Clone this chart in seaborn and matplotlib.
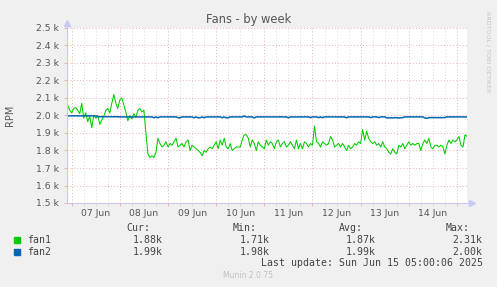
import pandas as pd
import matplotlib
matplotlib.use("Agg")
import matplotlib.pyplot as plt
import matplotlib.dates as mdates
from matplotlib.ticker import FuncFormatter, MultipleLocator, NullFormatter
from matplotlib.patches import Rectangle
import seaborn as sns

# ---------------- data (hourly samples, RPM) ----------------
start_time = "2025-06-06 22:00"
x_start = "2025-06-06 21:40"
x_end = "2025-06-15 05:00"

fan1_jun06 = [2060, 2030]
fan1_jun07 = [2015, 2040, 2045, 2030, 2010, 2070, 1985, 2015, 1965, 1995, 1930, 2000,
              1985, 2000, 1950, 1975, 1995, 2030, 2040, 2015, 2070, 2120, 2070, 2040]
fan1_jun08 = [2090, 2100, 2060, 2020, 1970, 2000, 1980, 2010, 1990, 2030, 2040, 2020,
              2030, 1900, 1780, 1760, 1770, 1760, 1790, 1870, 1840, 1820, 1830, 1850]
fan1_jun09 = [1820, 1840, 1830, 1850, 1870, 1820, 1830, 1840, 1820, 1850, 1860, 1800,
              1830, 1820, 1810, 1800, 1790, 1770, 1800, 1790, 1810, 1820, 1810, 1830]
fan1_jun10 = [1850, 1810, 1860, 1830, 1870, 1820, 1810, 1840, 1800, 1810, 1820, 1820,
              1820, 1860, 1890, 1890, 1870, 1820, 1860, 1840, 1800, 1850, 1830, 1820]
fan1_jun11 = [1810, 1860, 1830, 1850, 1840, 1810, 1850, 1860, 1820, 1840, 1850, 1820,
              1830, 1850, 1830, 1810, 1860, 1810, 1840, 1810, 1850, 1840, 1820, 1840]
fan1_jun12 = [1830, 1940, 1850, 1840, 1820, 1850, 1840, 1830, 1840, 1880, 1860, 1820,
              1830, 1840, 1820, 1840, 1820, 1800, 1830, 1810, 1820, 1840, 1830, 1850]
fan1_jun13 = [1840, 1920, 1860, 1910, 1870, 1850, 1840, 1850, 1830, 1840, 1820, 1850,
              1820, 1810, 1790, 1780, 1810, 1790, 1780, 1830, 1820, 1840, 1810, 1830]
fan1_jun14 = [1850, 1830, 1840, 1830, 1840, 1840, 1800, 1840, 1860, 1840, 1870, 1820,
              1810, 1830, 1830, 1820, 1830, 1820, 1780, 1830, 1860, 1840, 1860, 1850]
fan1_jun15 = [1860, 1880, 1830, 1820, 1890, 1880]

fan2_jun06 = [1998, 1998]
fan2_jun07 = [1998, 1998, 1998, 1998, 1998, 1998, 1998, 1998, 1998, 1998, 1998, 1998,
              1998, 1993, 1993, 1993, 1993, 1993, 1993, 1993, 1993, 1993, 1993, 1993]
fan2_jun08 = [1992, 1992, 1992, 1992, 1992, 1992, 1992, 1992, 1992, 1992, 1992, 1992,
              1992, 1992, 1992, 1992, 1992, 1987, 1992, 1987, 1992, 1992, 1992, 1992]
fan2_jun09 = [1992, 1992, 1992, 1992, 1992, 1987, 1987, 1992, 1992, 1992, 1992, 1992,
              1992, 1987, 1992, 1987, 1987, 1992, 1987, 1992, 1992, 1992, 1992, 1992]
fan2_jun10 = [1992, 1992, 1992, 1987, 1992, 1987, 1987, 1992, 1992, 1992, 1992, 1992,
              1992, 1992, 1997, 1992, 1992, 1992, 1992, 1986, 1992, 1992, 1992, 1992]
fan2_jun11 = [1992, 1992, 1992, 1992, 1992, 1992, 1992, 1992, 1992, 1992, 1992, 1992,
              1987, 1992, 1992, 1992, 1992, 1992, 1992, 1992, 1992, 1992, 1992, 1988]
fan2_jun12 = [1992, 1992, 1992, 1988, 1992, 1988, 1992, 1992, 1992, 1992, 1992, 1992,
              1992, 1992, 1992, 1992, 1992, 1987, 1992, 1992, 1992, 1992, 1992, 1992]
fan2_jun13 = [1992, 1992, 1992, 1992, 1992, 1988, 1992, 1992, 1992, 1988, 1992, 1992,
              1992, 1987, 1986, 1987, 1986, 1988, 1987, 1986, 1987, 1988, 1992, 1992]
fan2_jun14 = [1992, 1992, 1992, 1992, 1992, 1992, 1992, 1992, 1986, 1984, 1988, 1988,
              1988, 1988, 1988, 1988, 1988, 1988, 1988, 1992, 1992, 1992, 1992, 1992]
fan2_jun15 = [1992, 1992, 1992, 1992, 1992, 1992]

fan1 = (fan1_jun06 + fan1_jun07 + fan1_jun08 + fan1_jun09 + fan1_jun10 + fan1_jun11
        + fan1_jun12 + fan1_jun13 + fan1_jun14 + fan1_jun15)
fan2 = (fan2_jun06 + fan2_jun07 + fan2_jun08 + fan2_jun09 + fan2_jun10 + fan2_jun11
        + fan2_jun12 + fan2_jun13 + fan2_jun14 + fan2_jun15)

series_names = ["fan1", "fan2"]
series_colors = ["#00cc00", "#0066b3"]
legend_headers = ["Cur:", "Min:", "Avg:", "Max:"]
fan1_stats = ["1.88k", "1.71k", "1.87k", "2.31k"]
fan2_stats = ["1.99k", "1.98k", "1.99k", "2.00k"]
title = "Fans - by week"
ylabel = "RPM"
last_update = "Last update: Sun Jun 15 05:00:06 2025"
footer = "Munin 2.0.75"
side_text = "RRDTOOL / TOBI OETIKER"
y_min, y_max = 1500, 2500

times = pd.date_range(start_time, periods=len(fan1), freq="h")
df = pd.DataFrame({"time": times, "fan1": fan1, "fan2": fan2})

# ---------------- figure ----------------
W, H = 497, 287
fig = plt.figure(figsize=(W / 100, H / 100), dpi=100, facecolor="#f0f0f0")
ax = fig.add_axes([67 / W, 84 / H, 400 / W, 175 / H])
ax.set_facecolor("white")

sns.lineplot(data=df, x="time", y="fan1", color=series_colors[0], linewidth=0.75, ax=ax, zorder=3)
sns.lineplot(data=df, x="time", y="fan2", color=series_colors[1], linewidth=1.1, ax=ax, zorder=4)

ax.set_xlim(pd.Timestamp(x_start), pd.Timestamp(x_end))
ax.set_ylim(y_min, y_max)
ax.set_xlabel("")
ax.set_ylabel("")

red = "#eeb0b0"
grey = "#dadada"
ax.xaxis.set_major_locator(mdates.HourLocator(byhour=[0]))
ax.xaxis.set_major_formatter(NullFormatter())
ax.xaxis.set_minor_locator(mdates.HourLocator(byhour=[6, 12, 18]))
def day_label(x, pos):
    d = mdates.num2date(x)
    return d.strftime("%d %b") if d.hour == 12 else ""
ax.xaxis.set_minor_formatter(FuncFormatter(day_label))
ax.yaxis.set_major_locator(MultipleLocator(100))
ax.yaxis.set_major_formatter(FuncFormatter(lambda v, p: f"{v/1000:.1f} k"))

dots = (0, (1.0, 2.2))
ax.grid(which="major", axis="x", color=red, linestyle=dots, linewidth=0.7, zorder=1)
ax.grid(which="minor", axis="x", color=grey, linestyle=dots, linewidth=0.7, zorder=1)
ax.grid(which="major", axis="y", color=red, linestyle=dots, linewidth=0.7, zorder=1)
ax.set_axisbelow(True)

ax.tick_params(axis="x", which="major", color=red, length=2, width=0.7)
ax.tick_params(axis="x", which="minor", color=grey, length=2, width=0.7,
               labelsize=6.7, labelcolor="#555555", pad=2.5)
ax.tick_params(axis="y", which="major", color=red, length=2, width=0.7,
               labelsize=6.7, labelcolor="#555555", pad=3.5)

for s in ax.spines.values():
    s.set_visible(False)
axis_col = "#c8c8f4"
ax.plot([0, 0], [0, 1.03], color=axis_col, lw=0.8, transform=ax.transAxes, clip_on=False, zorder=5)
ax.plot([0, 1.012], [0, 0], color=axis_col, lw=0.8, transform=ax.transAxes, clip_on=False, zorder=5)
ax.plot([0], [1.03], marker="^", ms=4, color=axis_col, transform=ax.transAxes, clip_on=False, zorder=5)
ax.plot([1.012], [0], marker=">", ms=4, color=axis_col, transform=ax.transAxes, clip_on=False, zorder=5)

def fx(px):
    return px / W
def fy(py):
    return 1 - py / H

fig.text(fx(248.5), fy(19), title, fontsize=8.3, color="#555555", ha="center", va="center")
fig.text(fx(10), fy(115.5), ylabel, fontsize=7, color="#555555", ha="center", va="center", rotation=90)
fig.text(fx(488), fy(52), side_text, fontsize=4.6, color="#c4c4c4", ha="center", va="center", rotation=270)

mono = "DejaVu Sans Mono"
fs = 7.1
tc = "#444444"
val_right = [162.7, 269.3, 376, 482.7]
head_right = [150, 256.7, 363, 470]
for h, xr in zip(legend_headers, head_right):
    fig.text(fx(xr), fy(228.3), h, family=mono, fontsize=fs, color=tc, ha="right", va="center")
rows = [(240, 237.3, fan1_stats), (252, 249.3, fan2_stats)]
for (yc, ysq, stats), name, col in zip(rows, series_names, series_colors):
    fig.patches.append(Rectangle((fx(14), fy(ysq + 5.6)), 6 / W, 5.6 / H, color=col,
                                 transform=fig.transFigure, figure=fig))
    fig.text(fx(26.7), fy(yc), name, family=mono, fontsize=fs, color=tc, ha="left", va="center")
    for v, xr in zip(stats, val_right):
        fig.text(fx(xr), fy(yc), v, family=mono, fontsize=fs, color=tc, ha="right", va="center")
fig.text(fx(482.7), fy(263.3), last_update, family=mono, fontsize=fs, color=tc, ha="right", va="center")
fig.text(fx(247.7), fy(276), footer, fontsize=5.5, color="#c0c0c0", ha="center", va="center")

fig.savefig("out.png", dpi=100, facecolor=fig.get_facecolor())
